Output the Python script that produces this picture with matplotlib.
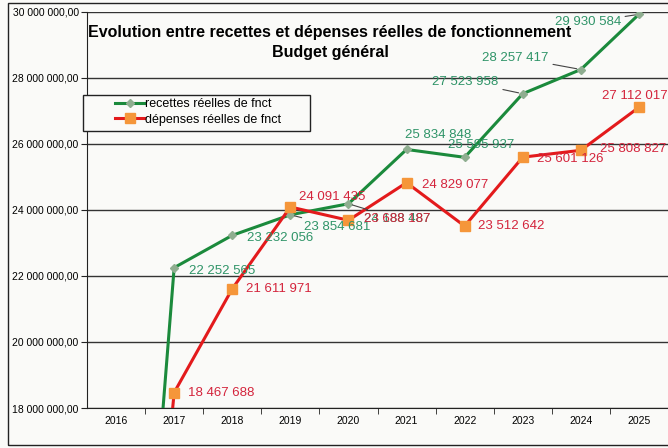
import numpy as np
import matplotlib.pyplot as plt
from matplotlib.patches import Rectangle

plt.rcParams['font.family'] = ['Liberation Sans', 'DejaVu Sans']

years = ['2016', '2017', '2018', '2019', '2020', '2021', '2022', '2023', '2024', '2025']
recettes = [0, 22252565, 23232056, 23854681, 24188487, 25834848,
            25595937, 27523958, 28257417, 29930584]
depenses = [0, 18467688, 21611971, 24091435, 23688187, 24829077,
            23512642, 25601126, 25808827, 27112017]
yticks = [18e6, 20e6, 22e6, 24e6, 26e6, 28e6, 30e6]

# label offsets in pixels (dx, dy, ha, leader)
off_rec = [None, (15, -3, 'left', False), (15, -3, 'left', False), (14, -12, 'left', True),
           (16, -15, 'left', True), (32, 14, 'center', False), (16, 12, 'center', False),
           (-24, 12, 'right', True), (-32, 12, 'right', True), (-18, -8, 'right', True)]
off_dep = [None, (14, 0, 'left', False), (14, 0, 'left', False), (9, 10, 'left', False),
           (16, 1, 'left', False), (15, -2, 'left', False), (13, 0, 'left', False),
           (14, -2, 'left', False), (19, 1, 'left', False), (-4, 11, 'center', False)]

green = '#1b8a3c'
green_txt = '#2f9468'
red = '#e31a1c'
red_txt = '#d4243c'


def fmt(v):
    return '{:,}'.format(int(v)).replace(',', ' ')


fig = plt.figure(figsize=(6.68, 4.48), dpi=100, facecolor='#fafaf8')
ax = fig.add_axes([87 / 668, 40 / 448, 581 / 668, 396 / 448])
ax.set_facecolor('none')

x = np.arange(len(years))
ax.plot(x, recettes, '-D', color=green, lw=2.2, ms=4.5, mfc='#8fae90', mec='#8fae90',
        label='recettes réelles de fnct', zorder=3)
ax.plot(x, depenses, '-s', color=red, lw=2.2, ms=7, mfc='#f5963a', mec='#f5963a',
        label='dépenses réelles de fnct', zorder=3)

for vals, offs, col in [(recettes, off_rec, green_txt), (depenses, off_dep, red_txt)]:
    for i, v in enumerate(vals):
        if offs[i] is None:
            continue
        dx, dy, ha, lead = offs[i]
        ap = dict(arrowstyle='-', color='#444444', lw=0.8, shrinkA=1, shrinkB=3) if lead else None
        ax.annotate(fmt(v), (x[i], v), xytext=(dx, dy), textcoords='offset pixels',
                    ha=ha, va='center', fontsize=9.5, color=col, arrowprops=ap,
                    annotation_clip=False, zorder=4)

ax.set_xlim(-0.5, 9.5)
ax.set_ylim(18e6, 30e6)
ax.set_yticks(yticks)
ax.set_yticklabels([fmt(v) + ',00' for v in yticks], fontsize=7.5)
ax.set_xticks(x)
ax.set_xticklabels(years, fontsize=7.5)
ax.set_xticks(np.arange(0.5, 9.5, 1), minor=True)
ax.tick_params(axis='x', which='major', length=0, pad=6)
ax.tick_params(axis='x', which='minor', length=4, direction='out', color='#222222')
ax.tick_params(axis='y', length=4, color='#222222', pad=2)
ax.grid(axis='y', color='#333333', lw=1)
for s in ['top', 'right']:
    ax.spines[s].set_visible(False)
ax.spines['left'].set_color('#222222')
ax.spines['bottom'].set_color('#222222')

fig.text(330 / 668, 1 - 33 / 448, 'Evolution entre recettes et dépenses réelles de fonctionnement',
         ha='center', va='center', fontsize=11.5, fontweight='bold')
fig.text(330 / 668, 1 - 52 / 448, 'Budget général', ha='center', va='center',
         fontsize=11.5, fontweight='bold')

# legend box drawn separately so it can be wider than the entries
fig.patches.append(Rectangle((83 / 668, 1 - 131 / 448), 227 / 668, 36 / 448,
                             transform=fig.transFigure, facecolor='#fafaf8',
                             edgecolor='#222222', lw=1, zorder=5))
leg = fig.legend(loc='upper left', bbox_to_anchor=(112 / 668, 1 - 95 / 448), fontsize=9,
                 handlelength=2.3, handletextpad=0.1, borderpad=0.25, labelspacing=0.3,
                 frameon=False, borderaxespad=0)
leg.set_zorder(6)

fig.patches.append(Rectangle((8 / 668, 3 / 448), 1.0, 442 / 448, transform=fig.transFigure,
                             fill=False, edgecolor='#222222', lw=1))

fig.savefig('out.png', dpi=100, facecolor=fig.get_facecolor())
